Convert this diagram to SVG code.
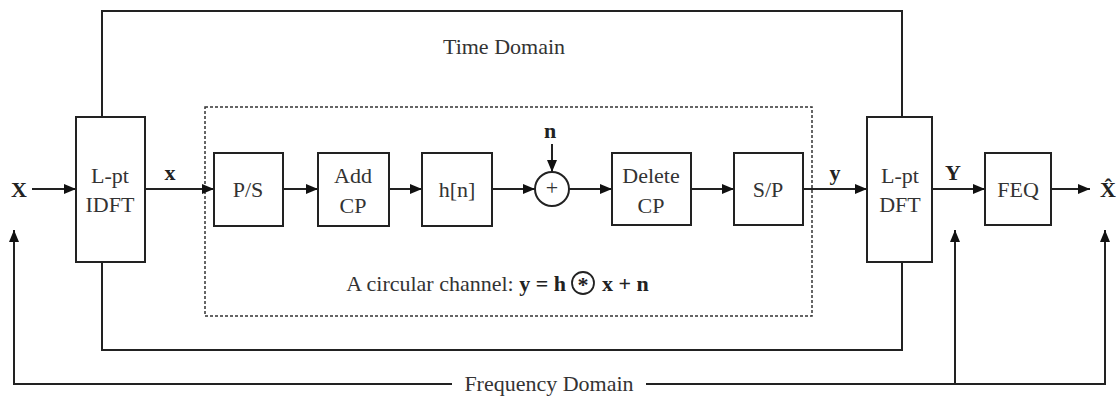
<svg xmlns="http://www.w3.org/2000/svg" width="1119" height="396" viewBox="0 0 1119 396">
<defs>
<marker id="ah" markerWidth="12" markerHeight="10" refX="12" refY="5" orient="auto" markerUnits="userSpaceOnUse">
<path d="M0,0 L12,5 L0,10 Z" fill="#111"/>
</marker>
<style>
.box{fill:#fff;stroke:#222;stroke-width:2}
.ln{fill:none;stroke:#222;stroke-width:2}
.t{font-family:"Liberation Serif","Times New Roman",serif;font-size:22px;fill:#333;text-anchor:middle}
.b{font-weight:bold;fill:#222}
</style>
</defs>
<rect width="1119" height="396" fill="#fff"/>

<g id="frames">
<path class="ln" d="M102,117 V11 H902 V117"/>
<path class="ln" d="M102,262 V350 H902 V262"/>
<rect x="205" y="107" width="607" height="209" fill="none" stroke="#333" stroke-width="1.5" stroke-dasharray="3,2"/>
<text class="t" x="504" y="54">Time Domain</text>
<text class="t" x="566" y="291" style="text-anchor:end">A circular channel: <tspan class="b">y = h</tspan></text>
<circle cx="583" cy="283" r="11" fill="none" stroke="#222" stroke-width="1.8"/>
<text class="t b" x="583" y="292" font-size="19">*</text>
<text class="t b" x="602" y="291" style="text-anchor:start">x + n</text>
</g>

<g id="connectors">
<path class="ln" d="M32,189 H76" marker-end="url(#ah)"/>
<path class="ln" d="M145,189 H214" marker-end="url(#ah)"/>
<path class="ln" d="M283,189 H318" marker-end="url(#ah)"/>
<path class="ln" d="M389,189 H422" marker-end="url(#ah)"/>
<path class="ln" d="M492,189 H535" marker-end="url(#ah)"/>
<path class="ln" d="M552,144 V172" marker-end="url(#ah)"/>
<path class="ln" d="M569,189 H612" marker-end="url(#ah)"/>
<path class="ln" d="M691,189 H734" marker-end="url(#ah)"/>
<path class="ln" d="M803,189 H867" marker-end="url(#ah)"/>
<path class="ln" d="M932,189 H985" marker-end="url(#ah)"/>
<path class="ln" d="M1051,189 H1090" marker-end="url(#ah)"/>
<path class="ln" d="M452,384 H14 V230" marker-end="url(#ah)"/>
<path class="ln" d="M646,384 H1105 V230" marker-end="url(#ah)"/>
<path class="ln" d="M955,384 V230" marker-end="url(#ah)"/>
<text class="t" x="549" y="391">Frequency Domain</text>
<text class="t b" x="19" y="197">X</text>
<text class="t b" x="170" y="180">x</text>
<text class="t b" x="550" y="138">n</text>
<text class="t b" x="835" y="180">y</text>
<text class="t b" x="953" y="180">Y</text>
<text class="t b" x="1108" y="197">X̂</text>
</g>

<g id="idft"><rect class="box" x="76" y="117" width="69" height="145"/><text class="t" x="110" y="183">L-pt</text><text class="t" x="110" y="212">IDFT</text></g>
<g id="ps"><rect class="box" x="214" y="153" width="69" height="73"/><text class="t" x="248" y="197">P/S</text></g>
<g id="addcp"><rect class="box" x="318" y="153" width="71" height="73"/><text class="t" x="353" y="183">Add</text><text class="t" x="353" y="213">CP</text></g>
<g id="hn"><rect class="box" x="422" y="153" width="70" height="73"/><text class="t" x="457" y="197">h[n]</text></g>
<g id="sum"><circle cx="552" cy="189" r="17" fill="#fff" stroke="#222" stroke-width="2"/><text class="t" x="552" y="195" font-size="17">+</text></g>
<g id="delcp"><rect class="box" x="612" y="153" width="79" height="72"/><text class="t" x="651" y="183">Delete</text><text class="t" x="651" y="213">CP</text></g>
<g id="sp"><rect class="box" x="734" y="153" width="69" height="72"/><text class="t" x="768" y="197">S/P</text></g>
<g id="dft"><rect class="box" x="867" y="117" width="65" height="145"/><text class="t" x="900" y="183">L-pt</text><text class="t" x="900" y="212">DFT</text></g>
<g id="feq"><rect class="box" x="985" y="153" width="66" height="72"/><text class="t" x="1018" y="197">FEQ</text></g>
</svg>
